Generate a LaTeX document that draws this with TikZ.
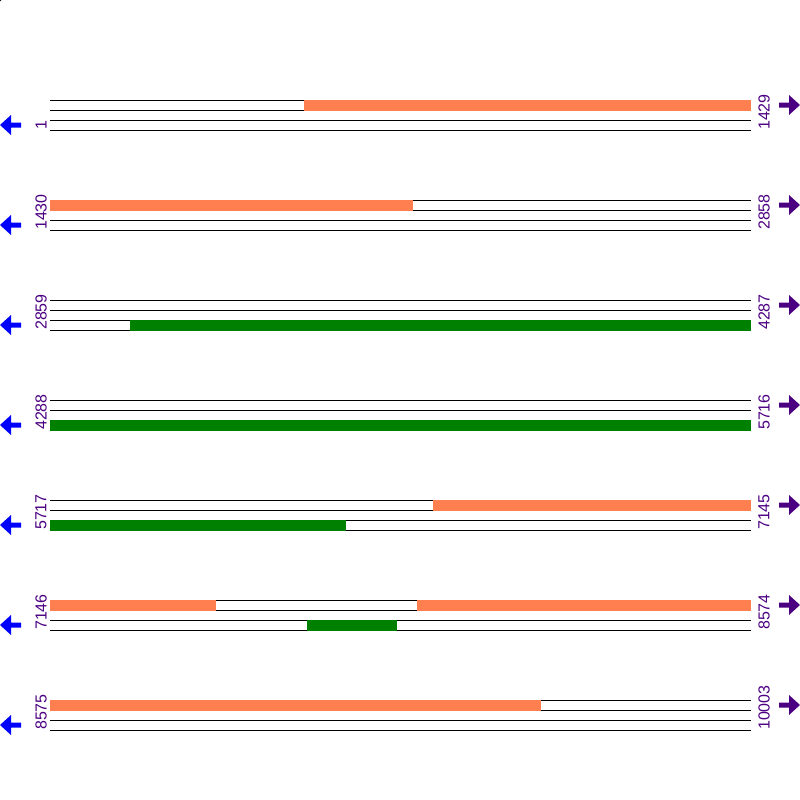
\documentclass[tikz,border=0pt]{standalone}
\usepackage{fontspec}
\setmainfont{Liberation Sans}
\definecolor{coralc}{RGB}{255,127,80}
\definecolor{greenc}{RGB}{0,128,0}
\definecolor{indigoc}{RGB}{75,0,130}
\definecolor{bluec}{RGB}{0,0,255}
\tikzset{
  track/.style={draw=black, line width=1pt},
  obar/.style={fill=coralc, draw=none},
  gbar/.style={fill=greenc, draw=none},
  numlabel/.style={rotate=90, anchor=west, inner sep=0pt, text=indigoc, font=\fontsize{16pt}{16pt}\selectfont},
  larrow/.style={fill=bluec, draw=none},
  rarrow/.style={fill=indigoc, draw=none}
}
\begin{document}
\begin{tikzpicture}[x=1pt,y=-1pt]
\useasboundingbox (0,0) rectangle (800,800);
\fill[black] (0,0) circle (1.5);
% rows
\foreach \k/\l/\r in {0/1/1429,1/1430/2858,2/2859/4287,3/4288/5716,4/5717/7145,5/7146/8574,6/8575/10003}{
  \pgfmathsetmacro{\yo}{100+100*\k}
  \foreach \t in {0,10,20,30}{
    \draw[track] (50,\yo+\t) -- (751,\yo+\t);
  }
  \node[numlabel] (L\k) at (41,\yo+30) {\l};
  \node[numlabel] (R\k) at (764,\yo+30) {\r};
  \fill[larrow] (0,\yo+25) -- (11,\yo+15) -- (11,\yo+22.5) -- (21,\yo+22.5) -- (21,\yo+27.5) -- (11,\yo+27.5) -- (11,\yo+35) -- cycle;
  \fill[rarrow] (800,\yo+5) -- (789,\yo-5) -- (789,\yo+2.5) -- (779,\yo+2.5) -- (779,\yo+7.5) -- (789,\yo+7.5) -- (789,\yo+15) -- cycle;
}
% bars
\fill[obar] (304,99.5) rectangle (751,110.5);
\fill[obar] (50,199.5) rectangle (413,210.5);
\fill[gbar] (130,319.5) rectangle (751,330.5);
\fill[gbar] (50,419.5) rectangle (751,430.5);
\fill[obar] (433,499.5) rectangle (751,510.5);
\fill[gbar] (50,519.5) rectangle (346,530.5);
\fill[obar] (50,599.5) rectangle (216,610.5);
\fill[obar] (417,599.5) rectangle (751,610.5);
\fill[gbar] (307,619.5) rectangle (397,630.5);
\fill[obar] (50,699.5) rectangle (541,710.5);
\end{tikzpicture}
\end{document}
